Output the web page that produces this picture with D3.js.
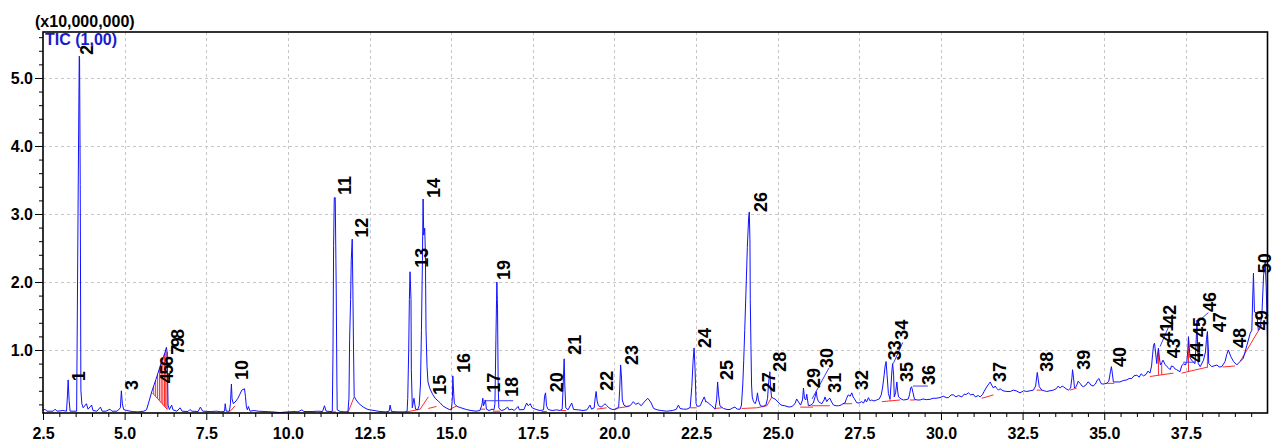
<!DOCTYPE html>
<html>
<head>
<meta charset="utf-8">
<script src="https://cdn.jsdelivr.net/npm/d3@7"></script>
<style>
  body { margin: 0; background: #fff; }
  svg { display: block; }
</style>
</head>
<body>
<svg id="chart" width="1274" height="442"></svg>
<script>
// Total ion chromatogram: [retention time (min), intensity (x10,000,000)]
const ticData = [
[2.50,0.11],[2.56,0.13],[2.62,0.10],[2.81,0.10],[2.87,0.13],[2.93,0.10],[3.11,0.11],[3.22,0.10],[3.25,0.34],[3.27,0.56],[3.30,0.26],[3.33,0.10],[3.42,0.10],[3.53,0.10],[3.55,1.44],[3.58,3.50],[3.61,5.32],[3.62,5.29],[3.64,3.43],[3.66,0.41],[3.69,0.21],[3.73,0.15],[3.83,0.21],[3.88,0.13],[3.99,0.19],[4.03,0.11],[4.15,0.10],[4.26,0.16],[4.31,0.10],[4.43,0.10],[4.55,0.13],[4.61,0.10],[4.77,0.10],[4.87,0.15],[4.90,0.40],[4.93,0.21],[4.97,0.125],[5.07,0.11],[5.23,0.095],[5.41,0.09],[5.59,0.10],[5.67,0.12],
[5.75,0.25],[5.84,0.40],[5.90,0.485],[5.96,0.57],[6.02,0.66],[6.08,0.75],[6.14,0.84],[6.19,0.90],[6.24,0.97],[6.28,1.04],[6.30,0.97],[6.32,0.485],[6.33,0.19],[6.37,0.125],[6.44,0.19],[6.48,0.12],[6.60,0.10],[6.70,0.15],[6.76,0.10],[6.94,0.095],[7.00,0.125],[7.06,0.10],[7.25,0.095],[7.32,0.16],[7.39,0.10],[7.62,0.095],[7.83,0.10],[7.95,0.09],[8.06,0.10],[8.08,0.21],[8.11,0.10],[8.21,0.10],[8.24,0.21],[8.27,0.50],[8.29,0.28],[8.33,0.21],[8.41,0.25],[8.47,0.29],[8.53,0.35],[8.59,0.41],[8.67,0.43],[8.70,0.32],[8.73,0.16],[8.76,0.12],[8.79,0.17],[8.84,0.10],[8.96,0.11],[9.09,0.10],[9.30,0.095],[9.51,0.09],[9.76,0.08],[10.00,0.09],[10.22,0.095],[10.31,0.09],[10.43,0.12],[10.49,0.095],[10.74,0.095],[10.92,0.10],[11.06,0.095],[11.12,0.18],[11.17,0.10],[11.32,0.095],
[11.36,0.10],[11.38,0.93],[11.40,2.54],[11.42,3.24],[11.45,3.24],[11.47,2.32],[11.48,1.88],[11.50,0.56],[11.51,0.12],[11.60,0.095],[11.75,0.09],
[11.84,0.095],[11.87,0.29],[11.89,1.15],[11.92,1.74],[11.94,2.32],[11.97,2.63],[11.99,1.88],[12.01,1.00],[12.03,0.32],[12.09,0.265],[12.18,0.21],[12.31,0.16],[12.45,0.125],[12.64,0.11],[12.82,0.095],[13.00,0.09],[13.10,0.10],[13.13,0.19],[13.17,0.095],[13.37,0.09],[13.56,0.09],
[13.65,0.095],[13.67,0.29],[13.70,1.00],[13.72,1.74],[13.74,2.15],[13.77,1.74],[13.78,0.71],[13.81,0.15],[13.86,0.29],[13.91,0.13],[13.97,0.12],
[14.02,0.18],[14.06,0.50],[14.09,1.29],[14.12,2.32],[14.14,3.22],[14.16,2.69],[14.19,2.79],[14.21,2.44],[14.23,1.29],[14.26,0.76],[14.29,0.53],[14.35,0.43],[14.43,0.35],[14.51,0.29],[14.60,0.25],[14.67,0.22],[14.74,0.18],[14.84,0.15],[14.94,0.125],
[15.01,0.12],[15.04,0.32],[15.05,0.62],[15.08,0.34],[15.10,0.21],[15.18,0.17],[15.30,0.15],[15.46,0.125],[15.61,0.11],[15.76,0.10],[15.88,0.11],
[15.94,0.19],[15.97,0.29],[15.99,0.18],[16.02,0.22],[16.05,0.265],[16.08,0.13],[16.16,0.11],[16.25,0.13],[16.31,0.12],
[16.34,0.21],[16.37,1.15],[16.39,1.74],[16.40,2.00],[16.42,1.59],[16.44,0.485],[16.46,0.15],[16.53,0.11],[16.62,0.12],[16.73,0.16],[16.77,0.12],[16.86,0.13],[16.93,0.11],[17.05,0.17],[17.09,0.12],[17.23,0.125],[17.31,0.22],[17.36,0.18],[17.42,0.21],[17.48,0.15],[17.60,0.125],[17.72,0.11],
[17.83,0.12],[17.86,0.32],[17.89,0.37],[17.92,0.18],[17.97,0.125],[18.09,0.11],[18.23,0.12],[18.33,0.11],
[18.40,0.13],[18.43,0.485],[18.46,0.87],[18.48,0.485],[18.51,0.15],[18.58,0.12],[18.69,0.22],[18.75,0.125],[18.89,0.12],[19.04,0.11],[19.16,0.12],[19.25,0.19],[19.30,0.13],[19.38,0.15],
[19.41,0.29],[19.44,0.39],[19.47,0.25],[19.51,0.18],[19.59,0.16],[19.65,0.18],[19.71,0.21],[19.77,0.18],[19.83,0.15],[19.93,0.125],[20.05,0.13],[20.13,0.16],
[20.16,0.41],[20.19,0.78],[20.22,0.56],[20.24,0.265],[20.29,0.19],[20.36,0.17],[20.48,0.18],[20.58,0.24],[20.65,0.20],[20.73,0.22],[20.82,0.18],[20.91,0.235],[21.02,0.29],[21.11,0.235],[21.20,0.14],[21.31,0.12],[21.43,0.11],[21.60,0.10],[21.77,0.11],[21.89,0.125],[21.96,0.19],[22.01,0.14],[22.11,0.13],[22.22,0.13],[22.32,0.155],
[22.37,0.46],[22.41,0.85],[22.44,1.03],[22.47,0.71],[22.50,0.21],[22.54,0.17],[22.63,0.18],[22.69,0.25],[22.75,0.31],[22.80,0.235],[22.83,0.24],[22.90,0.21],[22.98,0.18],[23.08,0.13],
[23.13,0.265],[23.16,0.53],[23.19,0.34],[23.23,0.18],[23.34,0.14],[23.45,0.125],[23.54,0.125],[23.63,0.15],[23.69,0.16],[23.76,0.13],[23.85,0.13],
[23.89,0.19],[23.93,0.485],[23.96,0.85],[23.99,1.29],[24.03,1.88],[24.07,2.51],[24.11,2.94],[24.13,3.03],[24.15,2.62],[24.16,1.74],[24.18,1.07],[24.20,0.485],[24.22,0.31],[24.26,0.24],[24.31,0.21],
[24.35,0.265],[24.38,0.37],[24.41,0.265],[24.47,0.18],[24.55,0.17],[24.64,0.19],
[24.69,0.29],[24.71,0.44],[24.73,0.56],[24.76,0.68],[24.78,0.485],[24.81,0.31],[24.86,0.29],[24.92,0.28],[25.01,0.235],[25.10,0.19],[25.22,0.18],[25.35,0.16],[25.44,0.17],[25.53,0.21],[25.58,0.28],[25.66,0.22],[25.70,0.19],
[25.76,0.265],[25.79,0.44],[25.82,0.29],[25.86,0.265],[25.89,0.35],[25.94,0.18],[26.02,0.19],[26.09,0.22],[26.15,0.32],[26.18,0.39],[26.21,0.29],[26.25,0.24],[26.35,0.21],[26.42,0.265],[26.45,0.31],[26.50,0.24],[26.56,0.28],[26.60,0.29],[26.65,0.235],[26.71,0.19],[26.79,0.18],[26.86,0.18],[26.94,0.19],[27.00,0.21],[27.06,0.22],[27.11,0.29],[27.16,0.34],[27.22,0.32],[27.27,0.37],[27.31,0.31],[27.34,0.29],[27.42,0.225],[27.49,0.22],[27.57,0.24],[27.63,0.22],[27.68,0.275],[27.72,0.235],[27.78,0.30],[27.83,0.25],[27.88,0.265],[27.95,0.25],[28.03,0.265],[28.11,0.28],
[28.17,0.34],[28.21,0.44],[28.26,0.63],[28.29,0.765],[28.32,0.83],[28.35,0.63],[28.39,0.36],[28.44,0.28],[28.47,0.485],[28.50,0.71],[28.52,0.80],[28.55,0.63],[28.57,0.31],[28.61,0.37],[28.65,0.53],[28.67,0.41],[28.70,0.31],[28.78,0.28],[28.85,0.265],[28.93,0.27],[29.00,0.28],[29.04,0.35],[29.07,0.44],[29.10,0.46],[29.14,0.38],[29.19,0.275],[29.27,0.265],[29.36,0.265],[29.45,0.28],[29.55,0.27],[29.67,0.275],[29.76,0.29],[29.85,0.29],[29.97,0.30],[30.07,0.32],[30.16,0.30],[30.23,0.30],[30.31,0.34],[30.38,0.34],[30.46,0.31],[30.53,0.33],[30.64,0.31],[30.71,0.35],[30.77,0.345],[30.84,0.37],[30.91,0.34],[30.99,0.35],[31.05,0.31],[31.14,0.33],[31.20,0.31],[31.28,0.35],[31.32,0.39],
[31.38,0.44],[31.44,0.485],[31.51,0.53],[31.55,0.485],[31.61,0.44],[31.66,0.47],[31.71,0.435],[31.76,0.41],[31.81,0.43],[31.90,0.40],[32.02,0.39],[32.12,0.39],[32.22,0.41],[32.30,0.40],[32.42,0.37],[32.53,0.40],[32.63,0.39],[32.73,0.40],[32.83,0.41],[32.90,0.47],
[32.93,0.60],[32.95,0.67],[32.98,0.56],[33.01,0.46],[33.09,0.41],[33.16,0.40],[33.24,0.39],[33.34,0.40],[33.44,0.41],[33.53,0.43],[33.59,0.47],[33.65,0.44],[33.71,0.47],[33.75,0.46],[33.83,0.43],[33.90,0.41],[33.97,0.44],
[34.01,0.59],[34.03,0.71],[34.06,0.59],[34.09,0.44],[34.15,0.47],[34.20,0.54],[34.26,0.51],[34.32,0.47],[34.36,0.46],[34.44,0.485],[34.50,0.53],[34.54,0.52],[34.59,0.485],[34.66,0.47],[34.73,0.50],[34.79,0.56],[34.84,0.58],[34.88,0.53],[34.92,0.50],[34.99,0.50],[35.07,0.51],[35.14,0.54],
[35.19,0.68],[35.22,0.755],[35.25,0.65],[35.28,0.53],[35.36,0.53],[35.48,0.53],[35.58,0.55],[35.69,0.56],[35.76,0.58],[35.84,0.58],[35.91,0.62],[36.00,0.63],[36.07,0.60],[36.13,0.65],[36.20,0.62],[36.28,0.64],[36.34,0.69],[36.40,0.66],
[36.45,0.765],[36.48,0.93],[36.51,1.07],[36.54,1.10],[36.57,0.97],[36.61,0.80],[36.63,0.93],[36.66,1.025],[36.69,0.88],[36.72,0.78],[36.77,0.82],[36.80,0.85],[36.86,0.79],[36.92,0.755],[36.97,0.735],[37.02,0.71],[37.06,0.765],[37.12,0.755],[37.17,0.72],[37.22,0.71],[37.32,0.68],[37.37,0.765],[37.43,0.80],[37.48,0.78],[37.53,0.83],[37.56,1.00],[37.58,1.195],[37.61,1.00],[37.63,0.88],[37.71,0.83],[37.78,0.80],[37.81,1.07],[37.84,1.44],[37.86,1.07],[37.88,0.80],[37.94,0.755],[38.04,0.85],[38.10,0.97],[38.13,1.15],[38.16,1.27],[38.19,1.00],[38.20,0.80],[38.29,0.755],[38.36,0.765],[38.45,0.78],[38.52,0.75],[38.60,0.755],[38.70,0.83],[38.75,0.93],[38.80,1.00],[38.88,0.90],[38.96,0.83],[39.06,0.78],[39.16,0.83],[39.26,0.88],[39.37,1.07],[39.47,1.245],[39.52,1.29],[39.545,1.735],[39.57,2.13],[39.60,1.56],[39.67,1.54],[39.72,1.29],[39.77,1.32],[39.83,1.54],[39.88,2.10],[39.93,2.30],[39.96,1.93],[40.0,1.195]
];

// Peak numbers and where each number is written (time, intensity)
const peakNumbers = d3.range(1, 51);
const labelTimes = [3.39,3.63,5.01,6.08,6.08,6.08,6.42,6.42,6.42,8.38,11.54,12.06,13.89,14.26,14.44,15.18,16.10,16.65,16.41,18.03,18.58,19.56,20.33,22.57,23.23,24.28,24.52,24.86,25.90,26.30,26.54,27.37,28.38,28.59,28.74,29.42,31.60,33.04,34.17,35.27,36.71,36.80,36.92,37.63,37.72,38.02,38.33,38.94,39.61,39.72];
const labelLevels = [0.54,5.34,0.41,0.51,0.64,0.765,0.93,1.16,1.04,0.56,3.28,2.65,2.21,3.235,0.34,0.66,0.37,0.31,2.03,0.38,0.93,0.40,0.78,1.03,0.56,3.03,0.38,0.68,0.44,0.735,0.37,0.41,0.85,1.15,0.53,0.485,0.53,0.68,0.71,0.75,1.12,1.37,0.88,0.82,1.19,1.56,1.26,1.03,1.29,2.13];

// Integration baselines: [t start, level start, t end, level end]
const baselineSegments = [
[5.85,0.37,6.31,0.125],[8.23,0.095,8.38,0.18],[11.29,0.09,11.47,0.09],[11.84,0.08,12.03,0.31],
[13.64,0.09,14.05,0.13],[14.05,0.13,14.30,0.31],[14.30,0.14,14.55,0.17],[14.97,0.13,15.18,0.18],
[15.88,0.13,16.04,0.13],[16.28,0.10,16.50,0.10],[17.77,0.095,17.93,0.095],[18.36,0.11,18.52,0.11],
[19.46,0.13,19.76,0.15],[20.02,0.14,20.43,0.17],[22.32,0.15,22.52,0.15],[23.08,0.14,23.29,0.15],
[23.90,0.14,24.36,0.15],[24.36,0.15,24.67,0.18],[24.67,0.18,24.82,0.31],[25.69,0.16,26.08,0.16],
[26.04,0.18,26.60,0.18],[27.00,0.21,27.28,0.21],[28.19,0.24,28.75,0.265],[29.05,0.265,29.21,0.265],
[31.25,0.29,31.61,0.34],[32.93,0.41,33.09,0.41],[33.95,0.41,34.16,0.44],[35.05,0.51,35.31,0.51],
[36.40,0.61,37.12,0.66],[37.37,0.66,38.18,0.75],[38.63,0.75,39.00,0.765],[39.16,0.83,39.83,1.37]
];
// Peak split (drop) lines
const dropTimes = [5.89,5.95,6.01,6.07,6.12,6.17,6.22,6.26,6.30,28.44,36.66,36.76,37.58,38.16];
// Label leader lines: [t start, level start, t end, level end]
const leaderLines = [
[16.01,0.254,16.90,0.254],[26.05,0.28,26.57,0.735],[28.54,0.80,28.83,1.11],[29.14,0.47,29.60,0.47],
[36.71,1.05,36.97,1.34],[37.42,0.82,37.78,0.82],[37.83,1.40,38.19,1.55]
];

const timeRange = [2.5, 40.0];
const intensityRange = [0.0735, 5.676];
const xTicks = [2.5,5.0,7.5,10.0,12.5,15.0,17.5,20.0,22.5,25.0,27.5,30.0,32.5,35.0,37.5];
const xMinorTicks = d3.range(3.0, 40.0, 0.5);
const yTicks = [1.0,2.0,3.0,4.0,5.0];
const yMinorTicks = [0.2,0.4,0.6,0.8,1.2,1.4,1.6,1.8,2.2,2.4,2.6,2.8,3.2,3.4,3.6,3.8,4.2,4.4,4.6,4.8,5.2,5.4,5.6];

const svg = d3.select("#chart");
const plotL = 43, plotR = 1267.5, plotT = 32, plotB = 413;
const x = d3.scaleLinear().domain(timeRange).range([plotL, plotR]);
const y = d3.scaleLinear().domain(intensityRange).range([plotB, plotT]);
const FONT = "'Liberation Sans', Arial, Helvetica, sans-serif";

// dashed grid
const grid = svg.append("g").attr("stroke", "#c6c6c6").attr("stroke-dasharray", "3,3").attr("stroke-width", 1);
grid.selectAll(".gx").data(xTicks.slice(1)).join("line")
  .attr("x1", d => Math.round(x(d)) + 0.5).attr("x2", d => Math.round(x(d)) + 0.5)
  .attr("y1", plotT).attr("y2", plotB);
grid.selectAll(".gy").data(yTicks).join("line")
  .attr("x1", plotL).attr("x2", plotR)
  .attr("y1", d => Math.round(y(d)) + 0.5).attr("y2", d => Math.round(y(d)) + 0.5);

// integration baselines
const interpTrace = t => {
  const i = d3.bisector(d => d[0]).right(ticData, t);
  const a = ticData[Math.max(0, i - 1)], b = ticData[Math.min(ticData.length - 1, i)];
  if (b[0] === a[0]) return a[1];
  return a[1] + (b[1] - a[1]) * (t - a[0]) / (b[0] - a[0]);
};
const baseAt = t => {
  const s = baselineSegments.find(s => t >= s[0] - 1e-9 && t <= s[2] + 1e-9);
  if (!s) return interpTrace(t);
  return s[1] + (s[3] - s[1]) * (t - s[0]) / (s[2] - s[0]);
};
const red = svg.append("g").attr("stroke", "#ff2a2a").attr("stroke-width", 1).attr("fill", "none");
red.selectAll(".seg").data(baselineSegments).join("line")
  .attr("x1", d => x(d[0])).attr("y1", d => y(d[1]))
  .attr("x2", d => x(d[2])).attr("y2", d => y(d[3]));
red.selectAll(".drop").data(dropTimes).join("line")
  .attr("x1", d => x(d)).attr("x2", d => x(d))
  .attr("y1", d => y(baseAt(d))).attr("y2", d => y(interpTrace(d)));

// chromatogram trace
svg.append("path").datum(ticData)
  .attr("fill", "none").attr("stroke", "#1010ff").attr("stroke-width", 1)
  .attr("stroke-linejoin", "round")
  .attr("d", d3.line().x(d => x(d[0])).y(d => y(d[1])));

// leader lines
svg.append("g").attr("stroke", "#3c3cff").attr("stroke-width", 1)
  .selectAll("line").data(leaderLines).join("line")
  .attr("x1", d => x(d[0])).attr("y1", d => y(d[1]))
  .attr("x2", d => x(d[2])).attr("y2", d => y(d[3]));

// peak numbers
svg.append("g").selectAll("text").data(peakNumbers).join("text")
  .attr("transform", (d, i) => `translate(${x(labelTimes[i])},${y(labelLevels[i])}) rotate(-90)`)
  .attr("dy", "0.72em")
  .attr("font-family", FONT).attr("font-weight", "bold").attr("font-size", 18)
  .attr("fill", "#000")
  .text(d => d);

// axes
svg.append("g").attr("transform", `translate(${plotL},0)`)
  .call(d3.axisLeft(y).tickValues(yTicks).tickFormat(d3.format(".1f")).tickSize(8).tickPadding(2).tickSizeOuter(0));
svg.append("g").attr("transform", `translate(${plotL},0)`)
  .call(d3.axisLeft(y).tickValues(yMinorTicks).tickFormat("").tickSize(4).tickSizeOuter(0));
svg.append("g").attr("transform", `translate(0,${plotB})`)
  .call(d3.axisBottom(x).tickValues(xTicks).tickFormat(d3.format(".1f")).tickSize(7).tickPadding(8).tickSizeOuter(0));
svg.append("g").attr("transform", `translate(0,${plotB})`)
  .call(d3.axisBottom(x).tickValues(xMinorTicks.filter(v => !xTicks.includes(v))).tickFormat("").tickSize(4).tickSizeOuter(0));
svg.selectAll(".domain").remove();
svg.selectAll(".tick line").attr("stroke", "#000").attr("stroke-width", 1);
svg.selectAll(".tick text").attr("font-family", FONT).attr("font-weight", "bold").attr("font-size", 16).attr("fill", "#000");

// frame
svg.append("rect").attr("x", plotL).attr("y", plotT).attr("width", plotR - plotL).attr("height", plotB - plotT)
  .attr("fill", "none").attr("stroke", "#000").attr("stroke-width", 1.6);

// titles
svg.append("text").attr("x", 35).attr("y", 27)
  .attr("font-family", FONT).attr("font-weight", "bold").attr("font-size", 16).attr("fill", "#000")
  .text("(x10,000,000)");
svg.append("text").attr("x", 45).attr("y", 45)
  .attr("font-family", FONT).attr("font-weight", "bold").attr("font-size", 16).attr("fill", "#1a1ad0")
  .text("TIC (1,00)");
</script>
</body>
</html>
